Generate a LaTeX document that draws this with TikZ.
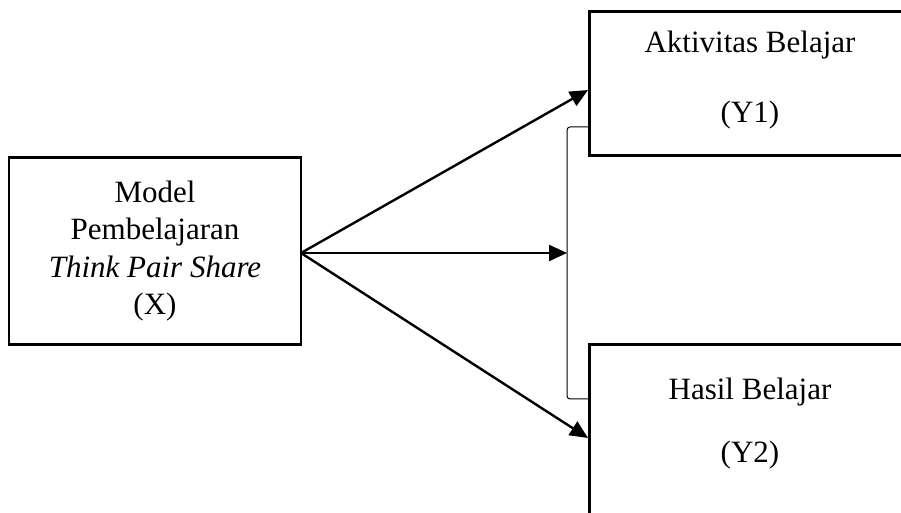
\documentclass[tikz,border=0pt]{standalone}
\usepackage{fontspec}
\setmainfont{Liberation Serif}
\usetikzlibrary{arrows.meta}
\begin{document}
\begin{tikzpicture}[x=1pt,y=1pt,
  box/.style={draw,line width=2.8pt,rectangle,inner sep=0pt,anchor=south west},
  lbl/.style={font=\fontsize{31}{37.5}\selectfont,anchor=base,inner sep=0pt},
  arr/.style={line width=2.4pt,-{Triangle[length=18pt,width=16pt]}},
  brk/.style={line width=1pt,rounded corners=3pt}]
\useasboundingbox (0,0) rectangle (901,513);
\clip (0,0) rectangle (901,513);
\node[draw,line width=2.8pt,minimum width=292pt,minimum height=187pt,inner sep=0pt,
  align=center,font=\fontsize{31}{37.5}\selectfont] (X) at (155,262)
  {Model\\Pembelajaran\\\textit{Think Pair Share}\\(X)};
\node[box,minimum width=324pt,minimum height=144pt] (Y1) at (588,356) {};
\node[box,minimum width=324pt,minimum height=214pt] (Y2) at (588,-47) {};
\node[lbl] (y1a) at (750,460) {Aktivitas Belajar};
\node[lbl] (y1b) at (750,390) {(Y1)};
\node[lbl] (y2a) at (750,113) {Hasil Belajar};
\node[lbl] (y2b) at (750,50) {(Y2)};
\coordinate (t1) at (588,423);
\coordinate (t2) at (567,260);
\coordinate (t3) at (588,75);
\coordinate (s) at (301,260);
\draw[arr] (s) -- (t1);
\draw[arr] (s) -- (t2);
\draw[arr] (s) -- (t3);
\coordinate (b1) at (588,386);
\coordinate (b2) at (588,114);
\draw[brk] (b1) -- (567,386) -- (567,114) -- (b2);
\end{tikzpicture}
\end{document}
